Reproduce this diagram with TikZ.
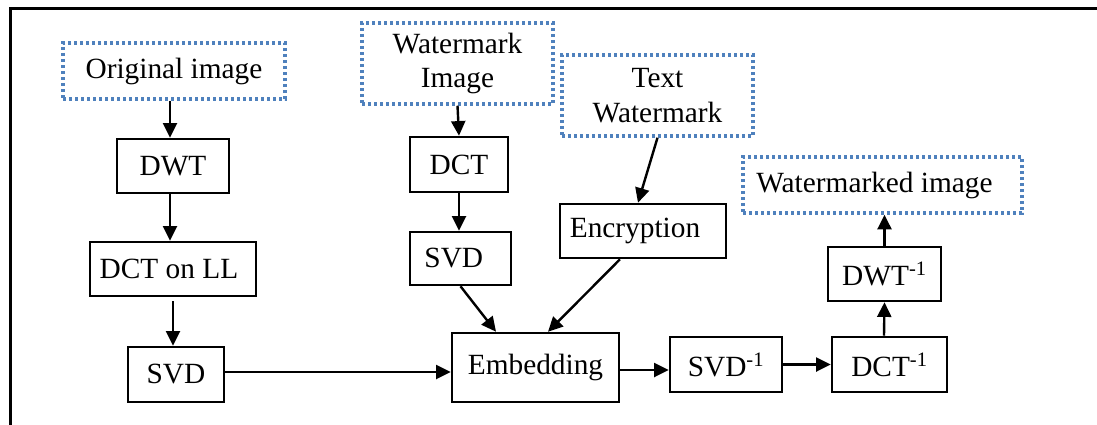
\documentclass[tikz,border=0pt]{standalone}
\usepackage{fontspec}
\setmainfont{Liberation Serif}
\usetikzlibrary{arrows.meta,calc}
\definecolor{wmblue}{RGB}{79,129,189}
\begin{document}
\begin{tikzpicture}[x=0.75pt,y=-0.75pt,
  every node/.style={font=\fontsize{22}{26}\selectfont, inner sep=0pt, align=center},
  procbox/.style={draw=black, line width=1.9pt},
  iobox/.style={draw=wmblue, line width=2.6pt, dash pattern=on 2.3pt off 2.2pt},
  arr/.style={line width=1.8pt, -{Triangle[length=11pt,width=10.5pt]}}]
\useasboundingbox (0,0) rectangle (1097,425);
% outer frame (top and left edges)
\draw[line width=2.6pt] (10.5,425) -- (10.5,8.5) -- (1097,8.5);

% inputs and output
\node[iobox, minimum width=166.5pt, minimum height=42pt] (orig) at (174,71) {Original image};
\node[iobox, minimum width=143.25pt, minimum height=60.75pt] (wmimg) at (457.5,63.5) {Watermark\\Image};
\node[iobox, minimum width=143.25pt, minimum height=60.75pt] (txtwm) at (657.5,95.5) {Text\\Watermark};
\node[iobox, minimum width=209.25pt, minimum height=42pt] (wmout) at (882.5,185) {Watermarked image\hspace{12pt}};

% processing steps
\node[procbox, minimum width=84pt, minimum height=40.5pt] (dwt) at (173,166) {DWT};
\node[procbox, minimum width=124.5pt, minimum height=40.5pt] (dctll) at (173,269) {DCT on LL\hspace{6pt}};
\node[procbox, minimum width=72pt, minimum height=41.25pt] (svdA) at (176,374.5) {SVD};
\node[procbox, minimum width=73.5pt, minimum height=41.25pt] (dct) at (459,164.5) {DCT};
\node[procbox, minimum width=75.75pt, minimum height=39.75pt] (svdB) at (460.5,258.5) {SVD\hspace{10pt}};
\node[procbox, minimum width=124.5pt, minimum height=40.5pt] (enc) at (643,231) {Encryption\hspace{12pt}};
\node[procbox, minimum width=125.25pt, minimum height=51.75pt] (emb) at (535.5,367.5) {Embedding};
\node[procbox, minimum width=84pt, minimum height=41.25pt] (svdinv) at (726,364.5) {SVD\textsuperscript{-1}};
\node[procbox, minimum width=86.25pt, minimum height=41.25pt] (dctinv) at (889.5,364.5) {DCT\textsuperscript{-1}};
\node[procbox, minimum width=84.75pt, minimum height=40.5pt] (dwtinv) at (884.5,274) {DWT\textsuperscript{-1}};

% connectors
\draw[arr] ($(orig.south)+(-4,0)$) -- ($(dwt.north)+(-3,0)$);
\draw[arr] ($(dwt.south)+(-3,0)$) -- ($(dctll.north)+(-3,0)$);
\draw[arr] ($(dctll.south)+(0,4)$) -- ($(svdA.north)+(-3,0)$);
\draw[arr] ($(svdA.east)+(0,-2.5)$) -- ($(emb.west)+(0,4.5)$);
\draw[arr] (wmimg.south) -- (dct.north);
\draw[arr] (dct.south) -- ($(svdB.north)+(-1.5,0)$);
\draw[arr] (svdB.south) -- ($(emb.north)+(-39.5,0)$);
\draw[arr] (txtwm.south) -- ($(enc.north)+(-5,0)$);
\draw[arr] ($(enc.south)+(-23,0)$) -- ($(emb.north)+(12.5,0)$);
\draw[arr] ($(emb.east)+(0,2.5)$) -- ($(svdinv.west)+(0,5.5)$);
\draw[arr] (svdinv.east) -- (dctinv.west);
\draw[arr] ($(dctinv.north)+(-5.5,0)$) -- (dwtinv.south);
\draw[arr] (dwtinv.north) -- (dwtinv.north |- wmout.south);
\end{tikzpicture}
\end{document}
